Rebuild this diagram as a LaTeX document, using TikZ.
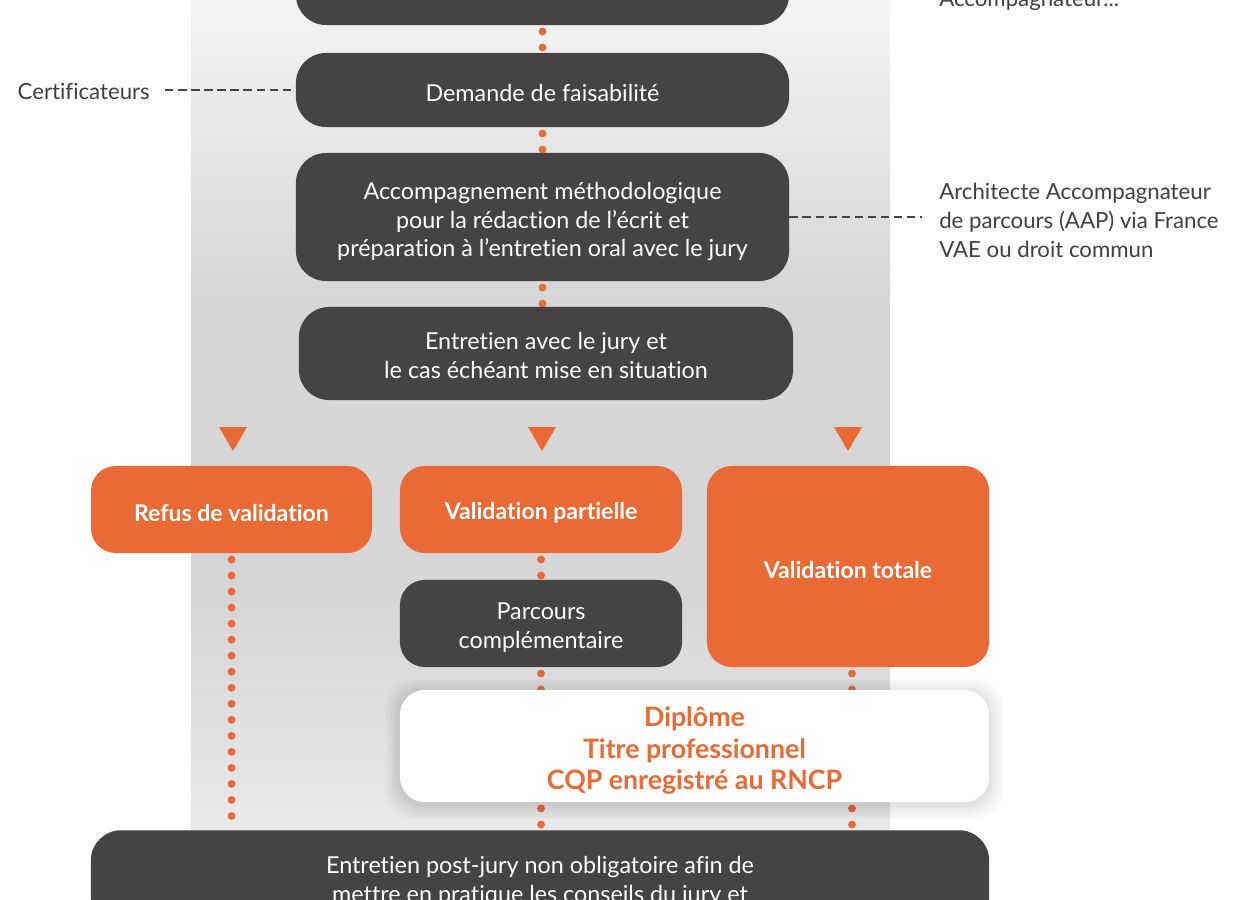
\documentclass[tikz,border=0pt]{standalone}
\usepackage{fontspec}
\setmainfont{Lato}[Ligatures={NoCommon}]
\definecolor{dark}{HTML}{454344}
\definecolor{org}{HTML}{EA6A35}
\definecolor{lbl}{HTML}{404040}
\newcommand{\topstrut}[1]{\rule{0pt}{#1}}
\pgfdeclarelayer{panel}
\pgfdeclarelayer{links}
\pgfsetlayers{panel,links,main}
\begin{document}
\begin{tikzpicture}[x=0.025cm,y=-0.025cm,
  lower/.style={execute at begin node={\rule{0pt}{#1}}},
  darkbox/.style={fill=dark, text=white, rounded corners=0.75cm, align=center, inner sep=0pt,
    font=\fontsize{16.6}{20.6}\selectfont},
  orgbox/.style={fill=org, text=white, rounded corners=0.62cm, align=center, inner sep=0pt,
    font=\fontsize{16.4}{20}\selectfont\bfseries, lower=16.6pt},
  whitebox/.style={fill=white, text=org, rounded corners=0.62cm, align=center, inner sep=0pt,
    font=\fontsize{19}{22.4}\selectfont\bfseries},
  softshadow/.style={fill=black, fill opacity=0.016, rounded corners=0.7cm},
  sidelabel/.style={text=lbl, inner sep=0pt, font=\fontsize{15.8}{20.6}\selectfont},
  dotline/.style={draw=org, line width=5.6pt, line cap=round, dash pattern=on 0pt off 11.4pt, dash phase=7pt},
  dashline/.style={draw=dark, line width=2.1pt, dash pattern=on 6pt off 3.3pt},
  tri/.style={fill=org}]
\useasboundingbox (0,0) rectangle (1240,899);
\clip (0,0) rectangle (1240,899);
\begin{pgfonlayer}{panel}
\fill[white] (0,0) rectangle (1240,899);
\shade[top color={rgb,255:red,244;green,244;blue,244}, bottom color={rgb,255:red,214;green,214;blue,214}] (191,0) rectangle (890,300);
\fill[color={rgb,255:red,214;green,214;blue,214}] (191,299) rectangle (890,601);
\shade[top color={rgb,255:red,214;green,214;blue,214}, bottom color={rgb,255:red,238;green,238;blue,238}] (191,600) rectangle (890,899);
\end{pgfonlayer}

% nodes
\node[darkbox, minimum width=12.325cm, minimum height=2.125cm] (top) at (542.5,-17.5) {};
\node[darkbox, lower=16.8pt, minimum width=12.325cm, minimum height=1.85cm] (dem) at (542.5,90) {Demande de faisabilité};
\node[darkbox, minimum width=12.325cm, minimum height=3.2cm] (acc) at (542.5,217)
  {\topstrut{18.7pt}Accompagnement méthodologique\\pour la rédaction de l’écrit et\\préparation à l’entretien oral avec le jury};
\node[darkbox, minimum width=12.35cm, minimum height=2.325cm] (ent) at (546,353.5)
  {\topstrut{14.9pt}Entretien avec le jury et\\le cas échéant mise en situation};
\node[orgbox, minimum width=7.025cm, minimum height=2.175cm] (ref) at (231.5,509.5) {Refus de validation};
\node[orgbox, minimum width=7.05cm, minimum height=2.175cm] (par) at (541,509.5) {Validation partielle};
\node[orgbox, minimum width=7.05cm, minimum height=5.025cm] (tot) at (848,566.5) {Validation totale};
\node[darkbox, rounded corners=0.62cm, minimum width=7.05cm, minimum height=2.175cm] (cmp) at (541,623.5)
  {\topstrut{17.7pt}Parcours\\complémentaire};
\node[whitebox, minimum width=14.725cm, minimum height=2.8cm] (dip) at (694.5,746)
  {\topstrut{20.9pt}Diplôme\\Titre professionnel\\CQP enregistré au RNCP};
\node[darkbox, anchor=north, minimum width=22.45cm, inner ysep=0.5cm] (post) at (540,830)
  {\topstrut{16.8pt}Entretien post-jury non obligatoire afin de\\mettre en pratique les conseils du jury et};

% side labels
\node[sidelabel, anchor=east] (cert) at (150,91) {Certificateurs};
\node[sidelabel, anchor=west, align=left] (aap) at (939,220)
  {Architecte Accompagnateur\\de parcours (AAP) via France\\VAE ou droit commun};
\node[sidelabel, anchor=base west] (acctop) at (939,7) {Accompagnateur...};

% triangles
\fill[tri] (219,427) -- (247,427) -- (233,451) -- cycle;
\fill[tri] (528,427) -- (556,427) -- (542,451) -- cycle;
\fill[tri] (834,427) -- (862,427) -- (848,451) -- cycle;

% connectors behind boxes
\begin{pgfonlayer}{links}
\draw[dotline] (top.south) -- (dem.north);
\draw[dotline] (dem.south) -- (acc.north);
\draw[dotline] (acc.south) -- (ent.north -| acc.south);
\draw[dotline] (ref.south) -- (ref.south |- post.north);
\draw[dotline] (par.south) -- (cmp.north);
\draw[dotline] (cmp.south) -- (cmp.south |- dip.north);
\draw[dotline] (cmp.south |- dip.south) -- (cmp.south |- post.north);
\draw[dotline] ([xshift=0.1cm]tot.south) -- ([xshift=0.1cm]tot.south |- dip.north);
\draw[dotline] ([xshift=0.1cm]tot.south |- dip.south) -- ([xshift=0.1cm]tot.south |- post.north);
\draw[dashline, shorten <=0.375cm] (cert.east |- dem.west) -- (dem.west);
\draw[dashline, shorten >=0.425cm] (acc.east) -- (aap.west |- acc.east);
% soft shadow of the diploma box
\foreach \s in {1,...,7}
  \fill[softshadow] ([xshift=-\s*1.4pt, yshift=\s*1.4pt-2pt]dip.north west) rectangle ([xshift=\s*1.4pt, yshift=-\s*1.4pt-2pt]dip.south east);
\end{pgfonlayer}
\end{tikzpicture}
\end{document}
